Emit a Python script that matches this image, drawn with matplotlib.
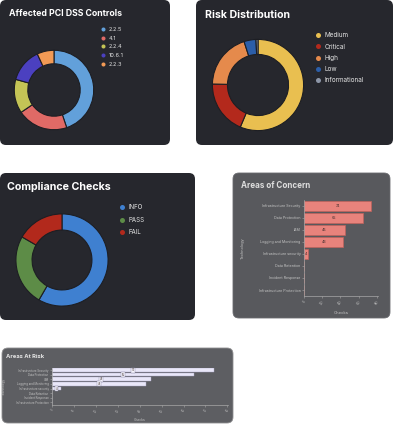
import matplotlib
matplotlib.use('Agg')
import matplotlib.pyplot as plt
from matplotlib.patches import FancyBboxPatch
from matplotlib.lines import Line2D

plt.rcParams['font.family'] = ['Inter', 'DejaVu Sans']

# figure size in pixels
W, H = 393, 425

# Affected PCI DSS Controls
pci_labels = ['2.2.5', '4.1', '2.2.4', '10.6.1', '2.2.3']
pci_counts = [13, 6, 4, 4, 2]
pci_colors = ['#62a0da', '#e06a66', '#c4c456', '#4b40c0', '#f29a55']

# Risk Distribution
risk_labels = ['Medium', 'Critical', 'High', 'Low', 'Informational']
risk_counts = [80, 27, 28, 6, 1]
risk_colors = ['#e9bf50', '#b3291c', '#e58a4c', '#2c5ea8', '#8d96a8']

# Compliance Checks
check_labels = ['INFO', 'PASS', 'FAIL']
check_counts = [7, 3, 2]
check_colors = ['#3f80d0', '#5d8c47', '#b2291c']

# Areas of Concern / Areas At Risk
areas = ['Infrastructure Security', 'Data Protection', 'IAM',
         'Logging and Monitoring', 'Infrastructure security',
         'Data Retention', 'Incident Response', 'Infrastructure Protection']
area_checks = [74, 65, 45, 43, 4, 0, 0, 0]


def px(x0, y0, x1, y1):
    # pixel box (top-left origin) -> figure fraction rect
    return [x0 / W, 1 - y1 / H, (x1 - x0) / W, (y1 - y0) / H]


fig = plt.figure(figsize=(W / 100, H / 100), dpi=100)
fig.patch.set_facecolor('white')

# background layer for the cards and titles, in pixel units
bg = fig.add_axes([0, 0, 1, 1], zorder=-1)
bg.set_xlim(0, W)
bg.set_ylim(H, 0)
bg.axis('off')

cards = [
    (0, 0, 170, 145, '#26272d', 'none'),
    (196, 0, 393, 145, '#26272d', 'none'),
    (0, 173, 195, 320, '#26272d', 'none'),
    (233, 173, 390, 318, '#58595d', '#6a6b6f'),
    (2, 348, 233, 423, '#5d5e62', '#8e8e90'),
]
for x0, y0, x1, y1, fc, ec in cards:
    bg.add_patch(FancyBboxPatch((x0, y0), x1 - x0, y1 - y0,
                                boxstyle='round,pad=0,rounding_size=6',
                                fc=fc, ec=ec, lw=0.6))

bg.text(9, 13, 'Affected PCI DSS Controls', color='white', fontsize=6.3,
        fontweight='bold', va='center')
bg.text(205, 15, 'Risk Distribution', color='white', fontsize=7.6,
        fontweight='bold', va='center')
bg.text(7, 187, 'Compliance Checks', color='white', fontsize=7.7,
        fontweight='bold', va='center')
bg.text(241, 185, 'Areas of Concern', color='#dedede', fontsize=5.8,
        fontweight='bold', va='center')
bg.text(6, 357, 'Areas At Risk', color='#e6e6e6', fontsize=4.2,
        fontweight='bold', va='center')


def donut(rect, counts, colors, width):
    ax = fig.add_axes(px(*rect))
    ax.pie(counts, colors=colors, startangle=90, counterclock=False,
           wedgeprops=dict(width=width, edgecolor='#1d1e23', linewidth=0.8))
    ax.set_xlim(-1.02, 1.02)
    ax.set_ylim(-1.02, 1.02)
    return ax


def legend(ax, labels, colors, x, y, fs, ms, spacing):
    handles = [Line2D([], [], ls='none', marker='o', ms=ms, mfc=c, mec='none')
               for c in colors]
    ax.legend(handles, labels, loc='upper left',
              bbox_to_anchor=(x / W, 1 - y / H), bbox_transform=fig.transFigure,
              frameon=False, fontsize=fs, labelcolor='#e4e4e4',
              borderpad=0, borderaxespad=0, handlelength=1.0,
              handletextpad=0.5, labelspacing=spacing)


ax1 = donut((13.5, 49.5, 94.5, 130.5), pci_counts, pci_colors, 0.34)
legend(ax1, pci_labels, pci_colors, 100.2, 26.7, 4, 2.9, 0.69)

ax2 = donut((211.5, 38.5, 304.5, 131.5), risk_counts, risk_colors, 0.33)
legend(ax2, risk_labels, risk_colors, 314.9, 32.3, 4.6, 3.6, 0.82)

ax3 = donut((15, 213, 109, 307), check_counts, check_colors, 0.35)
legend(ax3, check_labels, check_colors, 119, 204.4, 4.4, 3.6, 1.04)


def area_bars(rect, xmax, ticks, height, fc, ec, lw, fs, lab_fs, lab_box,
              ylab_x, xlab_y):
    ax = fig.add_axes(px(*rect))
    ax.patch.set_alpha(0)
    pos = list(range(len(areas)))
    bars = ax.barh(pos, area_checks, height=height, color=fc, edgecolor=ec,
                   linewidth=lw)
    ax.set_yticks(pos, areas)
    ax.set_ylim(len(areas) - 0.5, -0.5)
    ax.set_xlim(0, xmax)
    ax.set_xticks(ticks, [str(t) for t in ticks], rotation=60)
    for side in ['top', 'right']:
        ax.spines[side].set_visible(False)
    for side in ['left', 'bottom']:
        ax.spines[side].set_color('#a8a8a8')
        ax.spines[side].set_linewidth(0.5)
    ax.tick_params(colors='#a8a8a8', labelcolor='#c4c4c4', labelsize=fs,
                   length=1.5, width=0.4, pad=1)
    texts = [str(v) if v else '' for v in area_checks]
    ax.bar_label(bars, labels=texts, label_type='center', fontsize=lab_fs,
                 color='#3a2a2a', bbox=lab_box)
    ax.set_ylabel('Technology', fontsize=fs + 0.2, color='#c4c4c4')
    ax.set_xlabel('Checks', fontsize=fs + 0.4, color='#c4c4c4')
    ax.yaxis.set_label_coords(ylab_x, 0.5)
    ax.xaxis.set_label_coords(0.5, xlab_y)
    return ax


area_bars((304, 200, 378, 296), 81.3, [0, 20, 40, 60, 80], 0.86,
          '#e8837c', '#c0625c', 0.5, 2.6, 2.6, None, -0.8, -0.16)

area_bars((52, 367.7, 228, 404.7), 80.3, [0, 10, 20, 30, 40, 50, 60, 70, 80],
          0.78, '#e9e7f8', '#a9a5c4', 0.3, 2.0, 1.8,
          dict(boxstyle='square,pad=0.2', fc='#f4f3fb', ec='#8d8aa6', lw=0.3),
          -0.26, -0.36)

fig.savefig('out.png', dpi=100)
